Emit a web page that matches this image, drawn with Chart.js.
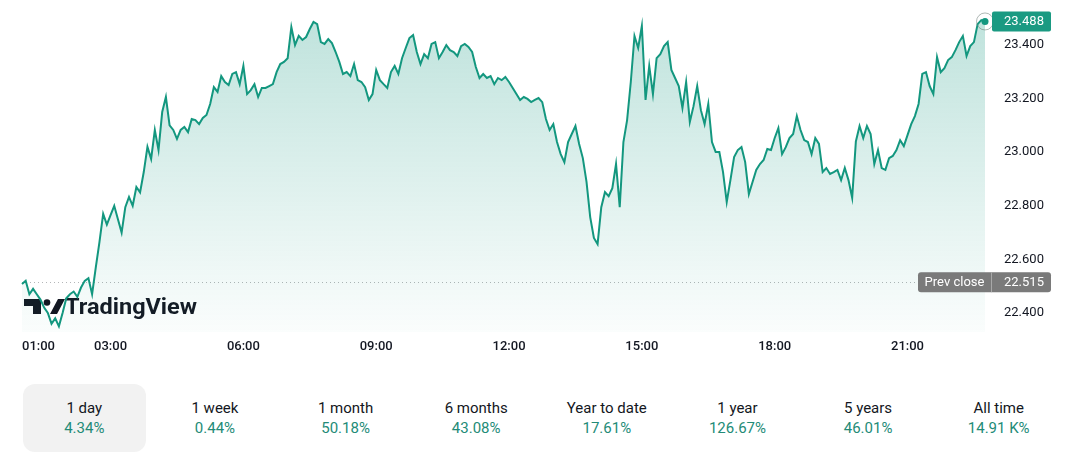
<!DOCTYPE html>
<html lang="en">
<head>
  <meta charset="UTF-8" />
  <title>1 day price chart</title>
  <script src="https://cdn.jsdelivr.net/npm/chart.js"></script>
  <style>
    body {
      margin: 0;
      background: #fff;
      font-family: Roboto, "Noto Sans", sans-serif;
      width: 1080px;
      height: 476px;
      position: relative;
      overflow: hidden;
    }
    #priceChart {
      position: absolute;
      left: 0;
      top: 0;
    }
    .ranges {
      position: absolute;
      left: 19px;
      top: 384px;
      width: 1045px;
      display: flex;
    }
    .range {
      flex: 1;
      margin: 0 4px;
      height: 68px;
      border-radius: 12px;
      display: flex;
      flex-direction: column;
      justify-content: center;
      align-items: center;
      font-size: 15px;
      line-height: 20px;
    }
    .range.active { background: #f2f2f2; }
    .range .name { color: #131722; }
    .range .pct { color: #238b77; }
  </style>
</head>
<body>
  <canvas id="priceChart" width="1080" height="360"></canvas>
  <div class="ranges" id="ranges"></div>

  <script>
    // 5-minute samples from 01:00 to 22:45
    const startMinute = 60;
    const stepMinutes = 5;
    const prices = [
      22.508, 22.52, 22.47, 22.49, 22.47, 22.45, 22.42, 22.40, 22.36, 22.38,
      22.35, 22.40, 22.455, 22.47, 22.48, 22.46, 22.495, 22.52, 22.53, 22.47,
      22.57, 22.665, 22.77, 22.73, 22.765, 22.80, 22.75, 22.70, 22.795, 22.833,
      22.80, 22.87, 22.85, 22.926, 23.02, 22.975, 23.083, 23.008, 23.15, 23.206,
      23.10, 23.083, 23.05, 23.083, 23.094, 23.075, 23.124, 23.12, 23.105, 23.128,
      23.139, 23.18, 23.243, 23.225, 23.284, 23.262, 23.251, 23.292, 23.299, 23.254,
      23.322, 23.217, 23.232, 23.254, 23.206, 23.24, 23.24, 23.247, 23.254, 23.299,
      23.329, 23.337, 23.351, 23.467, 23.40, 23.434, 23.419, 23.43, 23.46, 23.486,
      23.478, 23.411, 23.404, 23.422, 23.407, 23.374, 23.337, 23.292, 23.299, 23.284,
      23.329, 23.269, 23.262, 23.243, 23.195, 23.217, 23.307, 23.269, 23.254, 23.24,
      23.299, 23.322, 23.292, 23.351, 23.389, 23.426, 23.437, 23.374, 23.329, 23.366,
      23.351, 23.404, 23.411, 23.351, 23.374, 23.40, 23.381, 23.374, 23.359, 23.396,
      23.404, 23.393, 23.374, 23.318, 23.277, 23.292, 23.277, 23.284, 23.254, 23.277,
      23.269, 23.281, 23.262, 23.24, 23.217, 23.195, 23.206, 23.199, 23.187, 23.195,
      23.202, 23.187, 23.124, 23.083, 23.105, 23.038, 22.993, 22.963, 23.038, 23.068,
      23.098, 23.031, 22.978, 22.889, 22.758, 22.68, 22.657, 22.795, 22.851, 22.836,
      22.866, 22.956, 22.795, 23.038, 23.12, 23.262, 23.434, 23.389, 23.471, 23.195,
      23.322, 23.217, 23.351, 23.366, 23.396, 23.411, 23.307, 23.277, 23.247, 23.165,
      23.262, 23.113, 23.172, 23.247, 23.157, 23.105, 23.18, 23.038, 23.001, 23.001,
      22.926, 22.814, 22.896, 22.982, 23.008, 23.019, 22.963, 22.844, 22.889, 22.934,
      22.956, 22.971, 23.012, 23.008, 23.053, 23.09, 22.993, 23.019, 23.053, 23.068,
      23.135, 23.083, 23.045, 23.038, 22.993, 23.053, 23.031, 22.926, 22.941, 22.919,
      22.926, 22.934, 22.896, 22.941, 22.896, 22.83, 23.04, 23.098, 23.053, 23.098,
      23.068, 22.956, 23.008, 22.941, 22.934, 22.978, 22.986, 23.008, 23.045, 23.023,
      23.064, 23.105, 23.135, 23.18, 23.292, 23.299, 23.247, 23.217, 23.355, 23.299,
      23.314, 23.344, 23.355, 23.381, 23.411, 23.434, 23.359, 23.396, 23.411, 23.478,
      23.493, 23.488
    ];
    const prevClose = 22.515;
    const xTickLabels = ['01:00', '03:00', '06:00', '09:00', '12:00', '15:00', '18:00', '21:00'];
    const yTicks = [22.4, 22.6, 22.8, 23.0, 23.2, 23.4];

    const rangeNames = ['1 day', '1 week', '1 month', '6 months', 'Year to date', '1 year', '5 years', 'All time'];
    const rangeChanges = ['4.34%', '0.44%', '50.18%', '43.08%', '17.61%', '126.67%', '46.01%', '14.91 K%'];

    const lineColor = '#13977f';
    const textColor = '#131722';

    const times = prices.map((_, i) => {
      const m = startMinute + i * stepMinutes;
      return String(Math.floor(m / 60)).padStart(2, '0') + ':' + String(m % 60).padStart(2, '0');
    });

    // range buttons under the chart
    const rangesEl = document.getElementById('ranges');
    rangeNames.forEach((name, i) => {
      const d = document.createElement('div');
      d.className = 'range' + (i === 0 ? ' active' : '');
      d.innerHTML = '<div class="name">' + name + '</div><div class="pct">' + rangeChanges[i] + '</div>';
      rangesEl.appendChild(d);
    });

    function roundRect(c, x, y, w, h, r) {
      c.beginPath();
      c.moveTo(x + r, y);
      c.arcTo(x + w, y, x + w, y + h, r);
      c.arcTo(x + w, y + h, x, y + h, r);
      c.arcTo(x, y + h, x, y, r);
      c.arcTo(x, y, x + w, y, r);
      c.closePath();
    }

    const decorations = {
      id: 'decorations',
      beforeDatasetsDraw(chart) {
        const c = chart.ctx;
        const area = chart.chartArea;
        const ys = chart.scales.y;

        // watermark logo
        c.save();
        c.fillStyle = textColor;
        c.fillRect(24, 299, 17, 7);
        c.fillRect(33, 299, 8, 15);
        c.beginPath();
        c.arc(47, 302.5, 3.3, 0, Math.PI * 2);
        c.fill();
        c.beginPath();
        c.moveTo(50, 314);
        c.lineTo(57, 314);
        c.lineTo(65, 299);
        c.lineTo(58, 299);
        c.closePath();
        c.fill();
        c.font = 'bold 22px Roboto';
        const w = c.measureText('TradingView').width;
        c.translate(65, 314);
        c.scale(132 / w, 1);
        c.textBaseline = 'alphabetic';
        c.fillText('TradingView', 0, 0);
        c.restore();

        // previous close dotted line
        const py = Math.round(ys.getPixelForValue(prevClose)) + 0.5;
        c.save();
        c.strokeStyle = '#b4b6b8';
        c.lineWidth = 1;
        c.setLineDash([1, 3]);
        c.beginPath();
        c.moveTo(area.left, py);
        c.lineTo(918, py);
        c.stroke();
        c.restore();
      },
      afterDraw(chart) {
        const c = chart.ctx;
        const xs = chart.scales.x;
        const ys = chart.scales.y;
        const n = prices.length;

        // last point marker
        const lx = xs.getPixelForValue(n - 1);
        const ly = ys.getPixelForValue(prices[n - 1]);
        c.save();
        c.strokeStyle = 'rgba(110,125,120,0.55)';
        c.lineWidth = 1;
        c.beginPath();
        c.arc(lx, ly, 8.5, 0, Math.PI * 2);
        c.stroke();
        c.fillStyle = lineColor;
        c.beginPath();
        c.arc(lx, ly, 3.5, 0, Math.PI * 2);
        c.fill();

        // last price badge
        c.fillStyle = '#1a9a82';
        roundRect(c, 992, ly - 10, 59, 20, 2);
        c.fill();
        c.font = '13px Roboto';
        c.textBaseline = 'middle';
        c.textAlign = 'left';
        c.fillStyle = '#fff';
        c.fillText(prices[n - 1].toFixed(3), 1004, ly + 0.5);

        // prev close badge
        const py = ys.getPixelForValue(prevClose);
        c.fillStyle = '#7a7a7a';
        roundRect(c, 918, py - 10, 133, 20, 3);
        c.fill();
        c.strokeStyle = '#a8a8a8';
        c.beginPath();
        c.moveTo(991.5, py - 10);
        c.lineTo(991.5, py + 10);
        c.stroke();
        c.fillStyle = '#fff';
        c.textAlign = 'center';
        c.fillText('Prev close', 954.5, py + 0.5);
        c.textAlign = 'left';
        c.fillText(prevClose.toFixed(3), 1004, py + 0.5);

        // time labels
        c.font = '500 13px Roboto';
        c.fillStyle = textColor;
        xTickLabels.forEach((lab, k) => {
          const px = xs.getPixelForValue(times.indexOf(lab));
          c.textAlign = k === 0 ? 'left' : 'center';
          c.fillText(lab, px, 347);
        });
        c.restore();
      }
    };

    const ctx = document.getElementById('priceChart').getContext('2d');
    const priceChart = new Chart(ctx, {
      type: 'line',
      data: {
        labels: times,
        datasets: [{
          data: prices,
          borderColor: lineColor,
          borderWidth: 2,
          pointRadius: 0,
          tension: 0,
          fill: 'start',
          backgroundColor: (context) => {
            const a = context.chart.chartArea;
            if (!a) return 'transparent';
            const g = context.chart.ctx.createLinearGradient(0, a.top, 0, a.bottom);
            g.addColorStop(0, 'rgba(19,151,127,0.28)');
            g.addColorStop(1, 'rgba(19,151,127,0.02)');
            return g;
          }
        }]
      },
      options: {
        responsive: false,
        animation: false,
        layout: { padding: { left: 22, top: 7, bottom: 28, right: 0 } },
        plugins: {
          legend: { display: false },
          tooltip: { enabled: false }
        },
        scales: {
          x: { display: false },
          y: {
            position: 'right',
            min: 22.329,
            max: 23.542,
            grid: { display: false, drawTicks: false },
            border: { display: false },
            afterFit(scale) {
              scale.width = 95;
              scale.paddingTop = 0;
              scale.paddingBottom = 0;
            },
            afterBuildTicks(scale) { scale.ticks = yTicks.map(v => ({ value: v })); },
            ticks: {
              padding: 19,
              color: textColor,
              font: { family: 'Roboto', size: 13 },
              callback: (v) => Number(v).toFixed(3)
            }
          }
        }
      },
      plugins: [decorations]
    });
  </script>
</body>
</html>
